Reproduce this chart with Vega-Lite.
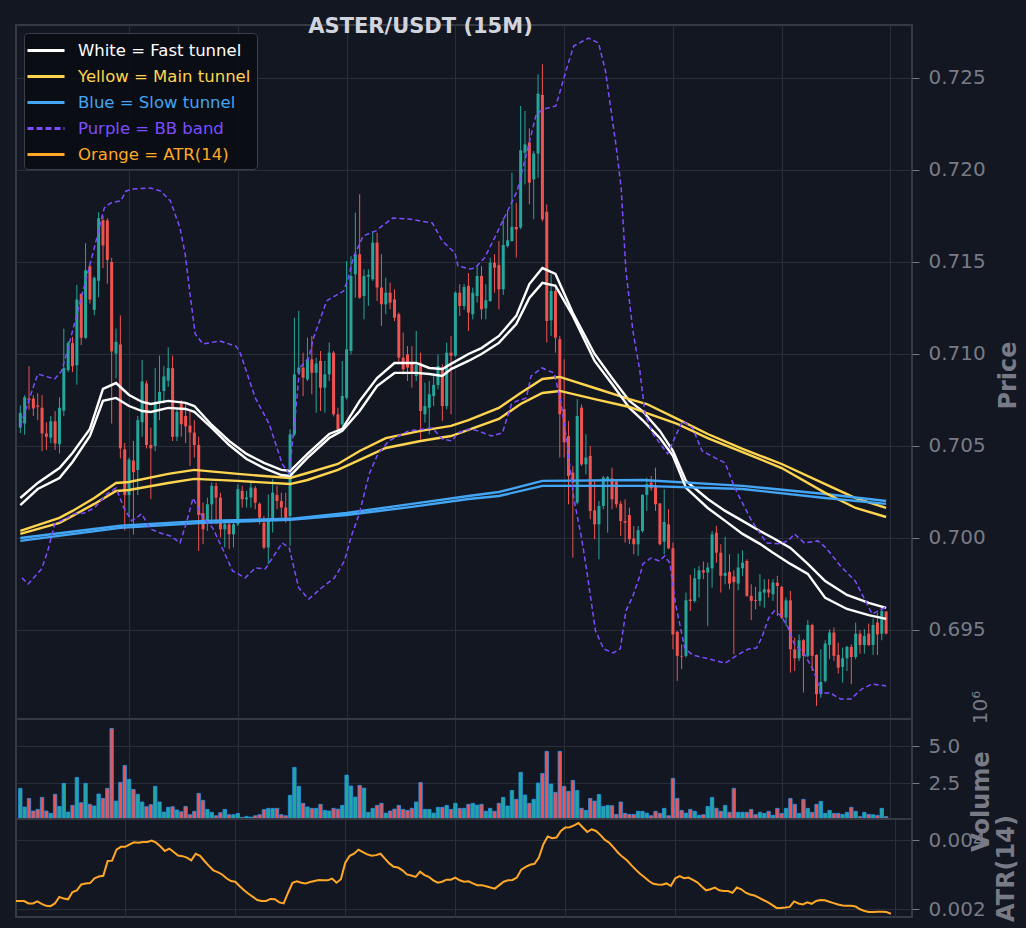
{
"$schema": "https://vega.github.io/schema/vega-lite/v6.json",
"background": "#131722",
"padding": {"left": 15, "top": 14, "right": 5, "bottom": 5},
"bounds": "flush",
"datasets": {
"candles": [
{"i":0,"o":0.70600,"h":0.70720,"l":0.70570,"c":0.70680,"v":2160000,"a":0.00224},
{"i":1,"o":0.70622,"h":0.70776,"l":0.70561,"c":0.70765,"v":900000,"a":0.00224},
{"i":2,"o":0.70758,"h":0.70934,"l":0.70697,"c":0.70749,"v":1480000,"a":0.00224},
{"i":3,"o":0.70758,"h":0.70776,"l":0.70663,"c":0.70704,"v":630000,"a":0.00217},
{"i":4,"o":0.70720,"h":0.70787,"l":0.70640,"c":0.70713,"v":740000,"a":0.00217},
{"i":5,"o":0.70708,"h":0.70776,"l":0.70471,"c":0.70568,"v":1550000,"a":0.00223},
{"i":6,"o":0.70568,"h":0.70629,"l":0.70478,"c":0.70550,"v":630000,"a":0.00216},
{"i":7,"o":0.70545,"h":0.70663,"l":0.70516,"c":0.70634,"v":470000,"a":0.00210},
{"i":8,"o":0.70634,"h":0.70690,"l":0.70478,"c":0.70514,"v":1760000,"a":0.00209},
{"i":9,"o":0.70509,"h":0.70765,"l":0.70459,"c":0.70708,"v":940000,"a":0.00217},
{"i":10,"o":0.70692,"h":0.71138,"l":0.70663,"c":0.70923,"v":2500000,"a":0.00236},
{"i":11,"o":0.70912,"h":0.71070,"l":0.70901,"c":0.71059,"v":560000,"a":0.00231},
{"i":12,"o":0.71059,"h":0.71093,"l":0.70901,"c":0.70934,"v":1010000,"a":0.00229},
{"i":13,"o":0.70939,"h":0.71376,"l":0.70833,"c":0.71296,"v":2900000,"a":0.00250},
{"i":14,"o":0.71326,"h":0.71330,"l":0.71048,"c":0.71088,"v":1190000,"a":0.00255},
{"i":15,"o":0.71088,"h":0.71602,"l":0.71081,"c":0.71455,"v":2500000,"a":0.00272},
{"i":16,"o":0.71477,"h":0.71482,"l":0.71274,"c":0.71296,"v":1080000,"a":0.00275},
{"i":17,"o":0.71240,"h":0.71421,"l":0.71210,"c":0.71414,"v":970000,"a":0.00276},
{"i":18,"o":0.71398,"h":0.71771,"l":0.71308,"c":0.71738,"v":1780000,"a":0.00290},
{"i":19,"o":0.71727,"h":0.71750,"l":0.71466,"c":0.71590,"v":1480000,"a":0.00295},
{"i":20,"o":0.71726,"h":0.71738,"l":0.71382,"c":0.71511,"v":2160000,"a":0.00297},
{"i":21,"o":0.71500,"h":0.71523,"l":0.70622,"c":0.71014,"v":6210000,"a":0.00340},
{"i":22,"o":0.71002,"h":0.71138,"l":0.70867,"c":0.71066,"v":1300000,"a":0.00341},
{"i":23,"o":0.71052,"h":0.71210,"l":0.70432,"c":0.70487,"v":2570000,"a":0.00373},
{"i":24,"o":0.70482,"h":0.70516,"l":0.70041,"c":0.70233,"v":3710000,"a":0.00381},
{"i":25,"o":0.70233,"h":0.70437,"l":0.70120,"c":0.70426,"v":2770000,"a":0.00381},
{"i":26,"o":0.70421,"h":0.70527,"l":0.70018,"c":0.70358,"v":2090000,"a":0.00388},
{"i":27,"o":0.70369,"h":0.70663,"l":0.70233,"c":0.70640,"v":1760000,"a":0.00394},
{"i":28,"o":0.70629,"h":0.70968,"l":0.70550,"c":0.70851,"v":1240000,"a":0.00393},
{"i":29,"o":0.70840,"h":0.70855,"l":0.70487,"c":0.70505,"v":920000,"a":0.00395},
{"i":30,"o":0.70505,"h":0.70600,"l":0.70211,"c":0.70487,"v":1060000,"a":0.00395},
{"i":31,"o":0.70500,"h":0.70923,"l":0.70471,"c":0.70740,"v":2300000,"a":0.00399},
{"i":32,"o":0.70735,"h":0.70991,"l":0.70640,"c":0.70794,"v":1240000,"a":0.00393},
{"i":33,"o":0.70799,"h":0.70934,"l":0.70731,"c":0.70878,"v":560000,"a":0.00382},
{"i":34,"o":0.70855,"h":0.71036,"l":0.70821,"c":0.70923,"v":880000,"a":0.00369},
{"i":35,"o":0.70923,"h":0.70991,"l":0.70527,"c":0.70550,"v":920000,"a":0.00376},
{"i":36,"o":0.70550,"h":0.70700,"l":0.70527,"c":0.70686,"v":700000,"a":0.00366},
{"i":37,"o":0.70731,"h":0.70749,"l":0.70550,"c":0.70618,"v":580000,"a":0.00356},
{"i":38,"o":0.70663,"h":0.70731,"l":0.70516,"c":0.70607,"v":940000,"a":0.00354},
{"i":39,"o":0.70611,"h":0.70686,"l":0.70392,"c":0.70573,"v":380000,"a":0.00350},
{"i":40,"o":0.70573,"h":0.70640,"l":0.70437,"c":0.70505,"v":610000,"a":0.00342},
{"i":41,"o":0.70505,"h":0.70550,"l":0.69929,"c":0.70125,"v":1820000,"a":0.00361},
{"i":42,"o":0.70134,"h":0.70192,"l":0.69966,"c":0.70047,"v":1350000,"a":0.00355},
{"i":43,"o":0.70092,"h":0.70219,"l":0.70038,"c":0.70183,"v":740000,"a":0.00340},
{"i":44,"o":0.70183,"h":0.70301,"l":0.70074,"c":0.70283,"v":540000,"a":0.00326},
{"i":45,"o":0.70283,"h":0.70301,"l":0.70074,"c":0.70219,"v":310000,"a":0.00313},
{"i":46,"o":0.70219,"h":0.70246,"l":0.70002,"c":0.70047,"v":520000,"a":0.00308},
{"i":47,"o":0.70047,"h":0.70101,"l":0.69948,"c":0.70074,"v":740000,"a":0.00301},
{"i":48,"o":0.70074,"h":0.70101,"l":0.69939,"c":0.70020,"v":380000,"a":0.00290},
{"i":49,"o":0.70020,"h":0.70101,"l":0.69948,"c":0.70074,"v":380000,"a":0.00282},
{"i":50,"o":0.70074,"h":0.70292,"l":0.70065,"c":0.70265,"v":470000,"a":0.00280},
{"i":51,"o":0.70256,"h":0.70283,"l":0.70165,"c":0.70210,"v":200000,"a":0.00267},
{"i":52,"o":0.70210,"h":0.70256,"l":0.70165,"c":0.70220,"v":270000,"a":0.00255},
{"i":53,"o":0.70220,"h":0.70310,"l":0.70165,"c":0.70274,"v":220000,"a":0.00245},
{"i":54,"o":0.70270,"h":0.70283,"l":0.70156,"c":0.70192,"v":310000,"a":0.00236},
{"i":55,"o":0.70186,"h":0.70192,"l":0.70074,"c":0.70110,"v":380000,"a":0.00227},
{"i":56,"o":0.70083,"h":0.70120,"l":0.69939,"c":0.69948,"v":720000,"a":0.00224},
{"i":57,"o":0.69948,"h":0.70237,"l":0.69857,"c":0.70101,"v":810000,"a":0.00224},
{"i":58,"o":0.70101,"h":0.70319,"l":0.70029,"c":0.70246,"v":810000,"a":0.00230},
{"i":59,"o":0.70234,"h":0.70283,"l":0.70156,"c":0.70201,"v":810000,"a":0.00229},
{"i":60,"o":0.70201,"h":0.70246,"l":0.70110,"c":0.70165,"v":380000,"a":0.00220},
{"i":61,"o":0.70165,"h":0.70246,"l":0.70083,"c":0.70110,"v":310000,"a":0.00217},
{"i":62,"o":0.70119,"h":0.70590,"l":0.69957,"c":0.70563,"v":1690000,"a":0.00248},
{"i":63,"o":0.70563,"h":0.71197,"l":0.70554,"c":0.70889,"v":3580000,"a":0.00277},
{"i":64,"o":0.70898,"h":0.71234,"l":0.70889,"c":0.70926,"v":2300000,"a":0.00281},
{"i":65,"o":0.70926,"h":0.71007,"l":0.70771,"c":0.70871,"v":1150000,"a":0.00277},
{"i":66,"o":0.70862,"h":0.71089,"l":0.70853,"c":0.70971,"v":900000,"a":0.00275},
{"i":67,"o":0.70971,"h":0.71098,"l":0.70781,"c":0.70898,"v":810000,"a":0.00279},
{"i":68,"o":0.70898,"h":0.70980,"l":0.70681,"c":0.70948,"v":810000,"a":0.00282},
{"i":69,"o":0.70962,"h":0.71016,"l":0.70690,"c":0.70817,"v":1080000,"a":0.00285},
{"i":70,"o":0.70817,"h":0.70962,"l":0.70681,"c":0.70889,"v":670000,"a":0.00284},
{"i":71,"o":0.70889,"h":0.71062,"l":0.70853,"c":0.71007,"v":630000,"a":0.00284},
{"i":72,"o":0.71007,"h":0.71016,"l":0.70660,"c":0.70672,"v":810000,"a":0.00289},
{"i":73,"o":0.70672,"h":0.70708,"l":0.70582,"c":0.70591,"v":760000,"a":0.00277},
{"i":74,"o":0.70618,"h":0.70962,"l":0.70609,"c":0.70772,"v":1010000,"a":0.00287},
{"i":75,"o":0.70762,"h":0.71505,"l":0.70753,"c":0.71025,"v":3060000,"a":0.00335},
{"i":76,"o":0.71016,"h":0.71533,"l":0.70998,"c":0.71424,"v":2320000,"a":0.00355},
{"i":77,"o":0.71433,"h":0.71768,"l":0.71306,"c":0.71542,"v":1570000,"a":0.00361},
{"i":78,"o":0.71542,"h":0.71868,"l":0.71300,"c":0.71306,"v":2360000,"a":0.00373},
{"i":79,"o":0.71315,"h":0.71460,"l":0.71188,"c":0.71424,"v":2180000,"a":0.00366},
{"i":80,"o":0.71420,"h":0.71460,"l":0.71261,"c":0.71430,"v":540000,"a":0.00359},
{"i":81,"o":0.71406,"h":0.71668,"l":0.71397,"c":0.71605,"v":810000,"a":0.00355},
{"i":82,"o":0.71605,"h":0.71659,"l":0.71288,"c":0.71361,"v":1010000,"a":0.00357},
{"i":83,"o":0.71361,"h":0.71542,"l":0.71152,"c":0.71270,"v":1150000,"a":0.00361},
{"i":84,"o":0.71270,"h":0.71415,"l":0.71216,"c":0.71333,"v":490000,"a":0.00347},
{"i":85,"o":0.71333,"h":0.71388,"l":0.71243,"c":0.71279,"v":630000,"a":0.00333},
{"i":86,"o":0.71297,"h":0.71351,"l":0.71179,"c":0.71197,"v":760000,"a":0.00323},
{"i":87,"o":0.71216,"h":0.71225,"l":0.70953,"c":0.70980,"v":1010000,"a":0.00321},
{"i":88,"o":0.70980,"h":0.71116,"l":0.70889,"c":0.70917,"v":740000,"a":0.00313},
{"i":89,"o":0.70998,"h":0.71043,"l":0.70853,"c":0.70926,"v":670000,"a":0.00301},
{"i":90,"o":0.70953,"h":0.71043,"l":0.70817,"c":0.70898,"v":810000,"a":0.00298},
{"i":91,"o":0.70880,"h":0.71125,"l":0.70853,"c":0.70940,"v":1240000,"a":0.00294},
{"i":92,"o":0.70953,"h":0.71007,"l":0.70536,"c":0.70690,"v":2560000,"a":0.00309},
{"i":93,"o":0.70672,"h":0.70844,"l":0.70627,"c":0.70717,"v":740000,"a":0.00299},
{"i":94,"o":0.70708,"h":0.70853,"l":0.70563,"c":0.70781,"v":740000,"a":0.00294},
{"i":95,"o":0.70772,"h":0.70889,"l":0.70717,"c":0.70832,"v":490000,"a":0.00284},
{"i":96,"o":0.70832,"h":0.70998,"l":0.70808,"c":0.70935,"v":880000,"a":0.00277},
{"i":97,"o":0.70926,"h":0.70944,"l":0.70636,"c":0.70717,"v":880000,"a":0.00280},
{"i":98,"o":0.70717,"h":0.71062,"l":0.70699,"c":0.71007,"v":1010000,"a":0.00286},
{"i":99,"o":0.71007,"h":0.71098,"l":0.70672,"c":0.70990,"v":740000,"a":0.00286},
{"i":100,"o":0.70990,"h":0.71340,"l":0.70985,"c":0.71333,"v":1150000,"a":0.00292},
{"i":101,"o":0.71333,"h":0.71379,"l":0.71207,"c":0.71261,"v":810000,"a":0.00284},
{"i":102,"o":0.71261,"h":0.71380,"l":0.71240,"c":0.71364,"v":810000,"a":0.00280},
{"i":103,"o":0.71370,"h":0.71440,"l":0.71125,"c":0.71225,"v":1080000,"a":0.00281},
{"i":104,"o":0.71216,"h":0.71361,"l":0.71188,"c":0.71333,"v":1150000,"a":0.00275},
{"i":105,"o":0.71315,"h":0.71478,"l":0.71279,"c":0.71424,"v":1030000,"a":0.00270},
{"i":106,"o":0.71424,"h":0.71478,"l":0.71188,"c":0.71243,"v":1080000,"a":0.00270},
{"i":107,"o":0.71248,"h":0.71379,"l":0.71188,"c":0.71292,"v":610000,"a":0.00267},
{"i":108,"o":0.71288,"h":0.71523,"l":0.71283,"c":0.71496,"v":810000,"a":0.00263},
{"i":109,"o":0.71496,"h":0.71542,"l":0.71333,"c":0.71469,"v":610000,"a":0.00260},
{"i":110,"o":0.71483,"h":0.71614,"l":0.71243,"c":0.71351,"v":1150000,"a":0.00270},
{"i":111,"o":0.71351,"h":0.71741,"l":0.71321,"c":0.71592,"v":1550000,"a":0.00280},
{"i":112,"o":0.71587,"h":0.71777,"l":0.71578,"c":0.71618,"v":970000,"a":0.00284},
{"i":113,"o":0.71614,"h":0.71985,"l":0.71610,"c":0.71690,"v":2020000,"a":0.00285},
{"i":114,"o":0.71690,"h":0.71822,"l":0.71524,"c":0.71677,"v":1420000,"a":0.00292},
{"i":115,"o":0.71687,"h":0.72348,"l":0.71678,"c":0.72107,"v":3240000,"a":0.00315},
{"i":116,"o":0.72094,"h":0.72321,"l":0.71922,"c":0.72139,"v":1710000,"a":0.00323},
{"i":117,"o":0.72149,"h":0.72226,"l":0.71813,"c":0.71931,"v":1150000,"a":0.00329},
{"i":118,"o":0.71949,"h":0.72103,"l":0.71732,"c":0.72089,"v":1420000,"a":0.00332},
{"i":119,"o":0.72089,"h":0.72520,"l":0.71958,"c":0.72415,"v":2520000,"a":0.00350},
{"i":120,"o":0.72408,"h":0.72575,"l":0.71720,"c":0.71732,"v":3170000,"a":0.00388},
{"i":121,"o":0.71773,"h":0.71813,"l":0.71062,"c":0.71179,"v":4660000,"a":0.00411},
{"i":122,"o":0.71183,"h":0.71433,"l":0.71098,"c":0.71342,"v":2450000,"a":0.00406},
{"i":123,"o":0.71342,"h":0.71379,"l":0.71007,"c":0.71089,"v":1890000,"a":0.00408},
{"i":124,"o":0.71080,"h":0.71098,"l":0.70437,"c":0.70672,"v":4660000,"a":0.00427},
{"i":125,"o":0.70700,"h":0.70971,"l":0.70437,"c":0.70520,"v":2290000,"a":0.00437},
{"i":126,"o":0.70554,"h":0.70636,"l":0.70183,"c":0.70337,"v":1960000,"a":0.00438},
{"i":127,"o":0.70355,"h":0.70391,"l":0.69893,"c":0.70301,"v":2700000,"a":0.00443},
{"i":128,"o":0.70192,"h":0.70754,"l":0.70183,"c":0.70663,"v":2020000,"a":0.00450},
{"i":129,"o":0.70708,"h":0.70726,"l":0.70391,"c":0.70400,"v":810000,"a":0.00437},
{"i":130,"o":0.70400,"h":0.70563,"l":0.70346,"c":0.70437,"v":670000,"a":0.00424},
{"i":131,"o":0.70446,"h":0.70500,"l":0.70102,"c":0.70147,"v":1480000,"a":0.00432},
{"i":132,"o":0.70150,"h":0.70310,"l":0.69993,"c":0.70074,"v":1300000,"a":0.00427},
{"i":133,"o":0.70074,"h":0.70201,"l":0.69884,"c":0.70174,"v":1750000,"a":0.00415},
{"i":134,"o":0.70174,"h":0.70337,"l":0.70156,"c":0.70328,"v":940000,"a":0.00401},
{"i":135,"o":0.70310,"h":0.70337,"l":0.70029,"c":0.70330,"v":1010000,"a":0.00393},
{"i":136,"o":0.70324,"h":0.70382,"l":0.70156,"c":0.70210,"v":990000,"a":0.00379},
{"i":137,"o":0.70306,"h":0.70310,"l":0.70165,"c":0.70183,"v":400000,"a":0.00364},
{"i":138,"o":0.70186,"h":0.70201,"l":0.70011,"c":0.70092,"v":1240000,"a":0.00352},
{"i":139,"o":0.70092,"h":0.70210,"l":0.69975,"c":0.70083,"v":470000,"a":0.00342},
{"i":140,"o":0.70125,"h":0.70165,"l":0.69966,"c":0.69993,"v":400000,"a":0.00328},
{"i":141,"o":0.69997,"h":0.70065,"l":0.69911,"c":0.69966,"v":400000,"a":0.00315},
{"i":142,"o":0.69966,"h":0.70065,"l":0.69902,"c":0.70042,"v":610000,"a":0.00303},
{"i":143,"o":0.70038,"h":0.70237,"l":0.70029,"c":0.70234,"v":610000,"a":0.00293},
{"i":144,"o":0.70234,"h":0.70328,"l":0.70147,"c":0.70292,"v":490000,"a":0.00282},
{"i":145,"o":0.70301,"h":0.70337,"l":0.70256,"c":0.70270,"v":310000,"a":0.00274},
{"i":146,"o":0.70283,"h":0.70382,"l":0.70147,"c":0.70183,"v":610000,"a":0.00272},
{"i":147,"o":0.70187,"h":0.70190,"l":0.69960,"c":0.69966,"v":470000,"a":0.00271},
{"i":148,"o":0.69980,"h":0.70265,"l":0.69911,"c":0.70087,"v":810000,"a":0.00275},
{"i":149,"o":0.70074,"h":0.70156,"l":0.69939,"c":0.69944,"v":310000,"a":0.00268},
{"i":150,"o":0.69944,"h":0.69975,"l":0.69395,"c":0.69476,"v":2840000,"a":0.00290},
{"i":151,"o":0.69490,"h":0.69495,"l":0.69223,"c":0.69359,"v":1480000,"a":0.00296},
{"i":152,"o":0.69359,"h":0.69422,"l":0.69287,"c":0.69355,"v":670000,"a":0.00290},
{"i":153,"o":0.69359,"h":0.69703,"l":0.69350,"c":0.69661,"v":490000,"a":0.00292},
{"i":154,"o":0.69665,"h":0.69799,"l":0.69603,"c":0.69657,"v":740000,"a":0.00285},
{"i":155,"o":0.69657,"h":0.69835,"l":0.69648,"c":0.69781,"v":610000,"a":0.00278},
{"i":156,"o":0.69776,"h":0.69848,"l":0.69676,"c":0.69824,"v":340000,"a":0.00266},
{"i":157,"o":0.69824,"h":0.69872,"l":0.69776,"c":0.69812,"v":380000,"a":0.00255},
{"i":158,"o":0.69812,"h":0.69866,"l":0.69522,"c":0.69839,"v":940000,"a":0.00258},
{"i":159,"o":0.69835,"h":0.70038,"l":0.69730,"c":0.70020,"v":1550000,"a":0.00263},
{"i":160,"o":0.70029,"h":0.70065,"l":0.69866,"c":0.69920,"v":810000,"a":0.00255},
{"i":161,"o":0.69920,"h":0.69966,"l":0.69703,"c":0.69794,"v":610000,"a":0.00253},
{"i":162,"o":0.69794,"h":0.70006,"l":0.69748,"c":0.69810,"v":1010000,"a":0.00253},
{"i":163,"o":0.69816,"h":0.69911,"l":0.69721,"c":0.69752,"v":540000,"a":0.00248},
{"i":164,"o":0.69790,"h":0.69824,"l":0.69368,"c":0.69760,"v":2160000,"a":0.00263},
{"i":165,"o":0.69752,"h":0.69915,"l":0.69716,"c":0.69839,"v":540000,"a":0.00258},
{"i":166,"o":0.69835,"h":0.69933,"l":0.69794,"c":0.69866,"v":540000,"a":0.00248},
{"i":167,"o":0.69875,"h":0.69884,"l":0.69680,"c":0.69685,"v":540000,"a":0.00243},
{"i":168,"o":0.69685,"h":0.69748,"l":0.69553,"c":0.69658,"v":740000,"a":0.00240},
{"i":169,"o":0.69663,"h":0.69734,"l":0.69612,"c":0.69658,"v":380000,"a":0.00234},
{"i":170,"o":0.69658,"h":0.69803,"l":0.69630,"c":0.69708,"v":540000,"a":0.00227},
{"i":171,"o":0.69703,"h":0.69776,"l":0.69621,"c":0.69721,"v":470000,"a":0.00221},
{"i":172,"o":0.69721,"h":0.69776,"l":0.69676,"c":0.69703,"v":610000,"a":0.00213},
{"i":173,"o":0.69694,"h":0.69776,"l":0.69658,"c":0.69757,"v":340000,"a":0.00204},
{"i":174,"o":0.69757,"h":0.69794,"l":0.69576,"c":0.69739,"v":810000,"a":0.00204},
{"i":175,"o":0.69734,"h":0.69739,"l":0.69560,"c":0.69567,"v":470000,"a":0.00205},
{"i":176,"o":0.69567,"h":0.69676,"l":0.69522,"c":0.69661,"v":810000,"a":0.00207},
{"i":177,"o":0.69661,"h":0.69712,"l":0.69268,"c":0.69395,"v":1480000,"a":0.00223},
{"i":178,"o":0.69395,"h":0.69458,"l":0.69277,"c":0.69346,"v":1080000,"a":0.00217},
{"i":179,"o":0.69346,"h":0.69476,"l":0.69331,"c":0.69444,"v":470000,"a":0.00214},
{"i":180,"o":0.69444,"h":0.69450,"l":0.69160,"c":0.69359,"v":1420000,"a":0.00220},
{"i":181,"o":0.69359,"h":0.69553,"l":0.69350,"c":0.69527,"v":810000,"a":0.00216},
{"i":182,"o":0.69527,"h":0.69534,"l":0.69277,"c":0.69359,"v":540000,"a":0.00224},
{"i":183,"o":0.69364,"h":0.69368,"l":0.69087,"c":0.69151,"v":1080000,"a":0.00227},
{"i":184,"o":0.69151,"h":0.69395,"l":0.69132,"c":0.69217,"v":1280000,"a":0.00226},
{"i":185,"o":0.69223,"h":0.69444,"l":0.69214,"c":0.69426,"v":470000,"a":0.00222},
{"i":186,"o":0.69418,"h":0.69504,"l":0.69341,"c":0.69486,"v":670000,"a":0.00218},
{"i":187,"o":0.69486,"h":0.69513,"l":0.69332,"c":0.69359,"v":470000,"a":0.00214},
{"i":188,"o":0.69364,"h":0.69431,"l":0.69263,"c":0.69295,"v":470000,"a":0.00211},
{"i":189,"o":0.69299,"h":0.69404,"l":0.69214,"c":0.69346,"v":400000,"a":0.00210},
{"i":190,"o":0.69346,"h":0.69413,"l":0.69277,"c":0.69408,"v":540000,"a":0.00210},
{"i":191,"o":0.69408,"h":0.69422,"l":0.69205,"c":0.69353,"v":880000,"a":0.00208},
{"i":192,"o":0.69353,"h":0.69540,"l":0.69341,"c":0.69480,"v":610000,"a":0.00200},
{"i":193,"o":0.69480,"h":0.69498,"l":0.69371,"c":0.69418,"v":250000,"a":0.00195},
{"i":194,"o":0.69418,"h":0.69504,"l":0.69371,"c":0.69467,"v":540000,"a":0.00192},
{"i":195,"o":0.69480,"h":0.69534,"l":0.69413,"c":0.69418,"v":400000,"a":0.00192},
{"i":196,"o":0.69418,"h":0.69563,"l":0.69364,"c":0.69527,"v":380000,"a":0.00193},
{"i":197,"o":0.69540,"h":0.69594,"l":0.69364,"c":0.69476,"v":340000,"a":0.00193},
{"i":198,"o":0.69480,"h":0.69625,"l":0.69444,"c":0.69603,"v":810000,"a":0.00192},
{"i":199,"o":0.69600,"h":0.69603,"l":0.69476,"c":0.69480,"v":250000,"a":0.00187}
],
"tunnels": [
{"k":"a","i":0,"p1":0.70217,"p2":0.70179},{"k":"a","i":4,"p1":0.70299,"p2":0.70266},{"k":"a","i":9,"p1":0.70380,"p2":0.70326},{"k":"a","i":12,"p1":0.70462,"p2":0.70413},{"k":"a","i":16,"p1":0.70593,"p2":0.70554},{"k":"a","i":19,"p1":0.70810,"p2":0.70745},{"k":"a","i":22,"p1":0.70842,"p2":0.70761},{"k":"a","i":25,"p1":0.70777,"p2":0.70717},{"k":"a","i":28,"p1":0.70739,"p2":0.70690},{"k":"a","i":30,"p1":0.70728,"p2":0.70685},{"k":"a","i":34,"p1":0.70745,"p2":0.70707},{"k":"a","i":38,"p1":0.70734,"p2":0.70701},{"k":"a","i":40,"p1":0.70717,"p2":0.70685},{"k":"a","i":44,"p1":0.70614,"p2":0.70598},{"k":"a","i":48,"p1":0.70527,"p2":0.70505},{"k":"a","i":52,"p1":0.70457,"p2":0.70429},{"k":"a","i":56,"p1":0.70408,"p2":0.70380},{"k":"a","i":60,"p1":0.70370,"p2":0.70342},{"k":"a","i":62,"p1":0.70364,"p2":0.70337},{"k":"a","i":66,"p1":0.70457,"p2":0.70435},{"k":"a","i":71,"p1":0.70565,"p2":0.70543},{"k":"a","i":74,"p1":0.70593,"p2":0.70582},{"k":"a","i":78,"p1":0.70745,"p2":0.70690},{"k":"a","i":82,"p1":0.70869,"p2":0.70826},{"k":"a","i":86,"p1":0.70951,"p2":0.70897},{"k":"a","i":91,"p1":0.70951,"p2":0.70897},{"k":"a","i":94,"p1":0.70924,"p2":0.70891},{"k":"a","i":97,"p1":0.70918,"p2":0.70880},{"k":"a","i":99,"p1":0.70946,"p2":0.70918},{"k":"a","i":103,"p1":0.71000,"p2":0.70962},{"k":"a","i":106,"p1":0.71032,"p2":0.71000},{"k":"a","i":110,"p1":0.71098,"p2":0.71060},{"k":"a","i":114,"p1":0.71207,"p2":0.71163},{"k":"a","i":117,"p1":0.71380,"p2":0.71304},{"k":"a","i":120,"p1":0.71467,"p2":0.71386},{"k":"a","i":123,"p1":0.71435,"p2":0.71370},{"k":"a","i":127,"p1":0.71223,"p2":0.71207},{"k":"a","i":132,"p1":0.71000,"p2":0.70962},{"k":"a","i":136,"p1":0.70869,"p2":0.70837},{"k":"a","i":140,"p1":0.70745,"p2":0.70707},{"k":"a","i":143,"p1":0.70690,"p2":0.70641},{"k":"a","i":147,"p1":0.70582,"p2":0.70543},{"k":"a","i":150,"p1":0.70473,"p2":0.70446},{"k":"a","i":153,"p1":0.70310,"p2":0.70272},{"k":"a","i":158,"p1":0.70212,"p2":0.70163},{"k":"a","i":162,"p1":0.70147,"p2":0.70093},{"k":"a","i":166,"p1":0.70093,"p2":0.70022},{"k":"a","i":170,"p1":0.70038,"p2":0.69968},{"k":"a","i":173,"p1":0.70000,"p2":0.69919},{"k":"a","i":177,"p1":0.69946,"p2":0.69859},{"k":"a","i":181,"p1":0.69859,"p2":0.69805},{"k":"a","i":185,"p1":0.69766,"p2":0.69674},{"k":"a","i":190,"p1":0.69690,"p2":0.69614},{"k":"a","i":195,"p1":0.69647,"p2":0.69581},{"k":"a","i":199,"p1":0.69620,"p2":0.69560},
{"k":"b","i":0,"p1":0.70038,"p2":0.70022},{"k":"b","i":9,"p1":0.70109,"p2":0.70082},{"k":"b","i":12,"p1":0.70147,"p2":0.70120},{"k":"b","i":17,"p1":0.70217,"p2":0.70185},{"k":"b","i":22,"p1":0.70299,"p2":0.70255},{"k":"b","i":25,"p1":0.70304,"p2":0.70261},{"k":"b","i":34,"p1":0.70348,"p2":0.70299},{"k":"b","i":40,"p1":0.70370,"p2":0.70321},{"k":"b","i":50,"p1":0.70348,"p2":0.70310},{"k":"b","i":62,"p1":0.70326,"p2":0.70293},{"k":"b","i":66,"p1":0.70353,"p2":0.70315},{"k":"b","i":73,"p1":0.70402,"p2":0.70370},{"k":"b","i":78,"p1":0.70473,"p2":0.70424},{"k":"b","i":84,"p1":0.70543,"p2":0.70489},{"k":"b","i":92,"p1":0.70582,"p2":0.70527},{"k":"b","i":99,"p1":0.70609,"p2":0.70554},{"k":"b","i":103,"p1":0.70641,"p2":0.70587},{"k":"b","i":110,"p1":0.70707,"p2":0.70647},{"k":"b","i":115,"p1":0.70788,"p2":0.70728},{"k":"b","i":120,"p1":0.70864,"p2":0.70788},{"k":"b","i":124,"p1":0.70875,"p2":0.70799},{"k":"b","i":132,"p1":0.70815,"p2":0.70755},{"k":"b","i":140,"p1":0.70755,"p2":0.70712},{"k":"b","i":144,"p1":0.70728,"p2":0.70679},{"k":"b","i":151,"p1":0.70647,"p2":0.70620},{"k":"b","i":158,"p1":0.70565,"p2":0.70543},{"k":"b","i":166,"p1":0.70484,"p2":0.70467},{"k":"b","i":175,"p1":0.70402,"p2":0.70380},{"k":"b","i":185,"p1":0.70293,"p2":0.70245},{"k":"b","i":192,"p1":0.70217,"p2":0.70163},{"k":"b","i":199,"p1":0.70163,"p2":0.70114},
{"k":"c","i":0,"p1":0.70000,"p2":0.69984},{"k":"c","i":23,"p1":0.70066,"p2":0.70055},{"k":"c","i":42,"p1":0.70093,"p2":0.70082},{"k":"c","i":62,"p1":0.70104,"p2":0.70098},{"k":"c","i":75,"p1":0.70136,"p2":0.70125},{"k":"c","i":90,"p1":0.70185,"p2":0.70169},{"k":"c","i":103,"p1":0.70228,"p2":0.70212},{"k":"c","i":110,"p1":0.70250,"p2":0.70228},{"k":"c","i":120,"p1":0.70310,"p2":0.70283},{"k":"c","i":143,"p1":0.70315,"p2":0.70283},{"k":"c","i":166,"p1":0.70283,"p2":0.70266},{"k":"c","i":185,"p1":0.70239,"p2":0.70217},{"k":"c","i":199,"p1":0.70201,"p2":0.70185}
],
"bb": [
{"n":"u","i":0,"p":0.70609},{"n":"u","i":4,"p":0.70891},{"n":"u","i":7.9,"p":0.70864},{"n":"u","i":9.5,"p":0.70908},{"n":"u","i":10.8,"p":0.71016},{"n":"u","i":17,"p":0.71576},{"n":"u","i":19.3,"p":0.71794},{"n":"u","i":20.8,"p":0.71821},{"n":"u","i":23.1,"p":0.71832},{"n":"u","i":24.3,"p":0.71886},{"n":"u","i":26,"p":0.71897},{"n":"u","i":29.9,"p":0.71902},{"n":"u","i":32.2,"p":0.71886},{"n":"u","i":34.5,"p":0.71832},{"n":"u","i":36.7,"p":0.71685},{"n":"u","i":37.9,"p":0.71543},{"n":"u","i":39,"p":0.71326},{"n":"u","i":40.2,"p":0.71109},{"n":"u","i":42,"p":0.71054},{"n":"u","i":45.8,"p":0.71071},{"n":"u","i":49.5,"p":0.71043},{"n":"u","i":50.4,"p":0.71016},{"n":"u","i":54,"p":0.70761},{"n":"u","i":57.2,"p":0.70620},{"n":"u","i":60.2,"p":0.70402},{"n":"u","i":61.8,"p":0.70348},{"n":"u","i":63.3,"p":0.70690},{"n":"u","i":64.2,"p":0.70924},{"n":"u","i":66.3,"p":0.70978},{"n":"u","i":67.4,"p":0.71087},{"n":"u","i":70.4,"p":0.71288},{"n":"u","i":71.5,"p":0.71304},{"n":"u","i":74.3,"p":0.71342},{"n":"u","i":75.4,"p":0.71413},{"n":"u","i":76.5,"p":0.71522},{"n":"u","i":78.8,"p":0.71641},{"n":"u","i":81.7,"p":0.71669},{"n":"u","i":85.6,"p":0.71739},{"n":"u","i":89.2,"p":0.71734},{"n":"u","i":94.7,"p":0.71712},{"n":"u","i":97,"p":0.71614},{"n":"u","i":99.9,"p":0.71549},{"n":"u","i":100.6,"p":0.71478},{"n":"u","i":103.3,"p":0.71462},{"n":"u","i":104.5,"p":0.71467},{"n":"u","i":106.7,"p":0.71522},{"n":"u","i":109,"p":0.71631},{"n":"u","i":112,"p":0.71777},{"n":"u","i":114.2,"p":0.71886},{"n":"u","i":116.5,"p":0.72103},{"n":"u","i":118.6,"p":0.72304},{"n":"u","i":120.4,"p":0.72332},{"n":"u","i":123.1,"p":0.72348},{"n":"u","i":125.4,"p":0.72538},{"n":"u","i":127.2,"p":0.72674},{"n":"u","i":130.6,"p":0.72717},{"n":"u","i":132.9,"p":0.72690},{"n":"u","i":134.5,"p":0.72538},{"n":"u","i":137,"p":0.72120},{"n":"u","i":138.1,"p":0.71902},{"n":"u","i":139.2,"p":0.71451},{"n":"u","i":140.8,"p":0.71125},{"n":"u","i":142.4,"p":0.70908},{"n":"u","i":143.6,"p":0.70674},{"n":"u","i":145.4,"p":0.70565},{"n":"u","i":148.8,"p":0.70457},{"n":"u","i":150.4,"p":0.70543},{"n":"u","i":152.2,"p":0.70636},{"n":"u","i":154.5,"p":0.70598},{"n":"u","i":156.7,"p":0.70473},{"n":"u","i":159.7,"p":0.70435},{"n":"u","i":162,"p":0.70408},{"n":"u","i":164.2,"p":0.70272},{"n":"u","i":168.1,"p":0.70093},{"n":"u","i":171.5,"p":0.69973},{"n":"u","i":174.2,"p":0.69968},{"n":"u","i":176.5,"p":0.69984},{"n":"u","i":177.9,"p":0.70022},{"n":"u","i":180.2,"p":0.69973},{"n":"u","i":183.3,"p":0.69984},{"n":"u","i":185.2,"p":0.69946},{"n":"u","i":188.5,"p":0.69848},{"n":"u","i":191.9,"p":0.69766},{"n":"u","i":195.8,"p":0.69587},{"n":"u","i":199,"p":0.69625},
{"n":"l","i":0.4,"p":0.69783},{"n":"l","i":1.8,"p":0.69750},{"n":"l","i":4.9,"p":0.69832},{"n":"l","i":6.3,"p":0.69929},{"n":"l","i":7.9,"p":0.70076},{"n":"l","i":10.8,"p":0.70109},{"n":"l","i":12.4,"p":0.70131},{"n":"l","i":14.7,"p":0.70136},{"n":"l","i":17,"p":0.70163},{"n":"l","i":19.9,"p":0.70239},{"n":"l","i":22,"p":0.70272},{"n":"l","i":23.8,"p":0.70163},{"n":"l","i":25.6,"p":0.70093},{"n":"l","i":27.9,"p":0.70131},{"n":"l","i":29.9,"p":0.70049},{"n":"l","i":32.2,"p":0.70027},{"n":"l","i":34.5,"p":0.70011},{"n":"l","i":36.7,"p":0.69973},{"n":"l","i":38.1,"p":0.70076},{"n":"l","i":39.7,"p":0.70217},{"n":"l","i":42,"p":0.70109},{"n":"l","i":44.2,"p":0.70055},{"n":"l","i":46.5,"p":0.69940},{"n":"l","i":48.8,"p":0.69821},{"n":"l","i":51.7,"p":0.69783},{"n":"l","i":54,"p":0.69837},{"n":"l","i":56.3,"p":0.69832},{"n":"l","i":60.2,"p":0.69973},{"n":"l","i":61.8,"p":0.69946},{"n":"l","i":64,"p":0.69728},{"n":"l","i":66.3,"p":0.69668},{"n":"l","i":69.2,"p":0.69728},{"n":"l","i":72.2,"p":0.69783},{"n":"l","i":74.5,"p":0.69875},{"n":"l","i":76.1,"p":0.70011},{"n":"l","i":77.9,"p":0.70131},{"n":"l","i":80.2,"p":0.70348},{"n":"l","i":82.2,"p":0.70457},{"n":"l","i":84.7,"p":0.70527},{"n":"l","i":89.2,"p":0.70582},{"n":"l","i":93.1,"p":0.70593},{"n":"l","i":94.7,"p":0.70598},{"n":"l","i":97,"p":0.70538},{"n":"l","i":99.2,"p":0.70527},{"n":"l","i":100.6,"p":0.70571},{"n":"l","i":103.3,"p":0.70593},{"n":"l","i":105.2,"p":0.70582},{"n":"l","i":108.3,"p":0.70554},{"n":"l","i":110.8,"p":0.70571},{"n":"l","i":112.9,"p":0.70728},{"n":"l","i":114.2,"p":0.70745},{"n":"l","i":116.3,"p":0.70761},{"n":"l","i":117.4,"p":0.70880},{"n":"l","i":119.9,"p":0.70924},{"n":"l","i":122.7,"p":0.70897},{"n":"l","i":124.2,"p":0.70745},{"n":"l","i":125.6,"p":0.70527},{"n":"l","i":127.2,"p":0.70217},{"n":"l","i":129,"p":0.70000},{"n":"l","i":130.2,"p":0.69821},{"n":"l","i":132.2,"p":0.69495},{"n":"l","i":134.1,"p":0.69397},{"n":"l","i":136.3,"p":0.69375},{"n":"l","i":137.9,"p":0.69397},{"n":"l","i":139.2,"p":0.69603},{"n":"l","i":140.8,"p":0.69685},{"n":"l","i":142.4,"p":0.69794},{"n":"l","i":143.1,"p":0.69859},{"n":"l","i":144.9,"p":0.69891},{"n":"l","i":146.9,"p":0.69875},{"n":"l","i":148.1,"p":0.69902},{"n":"l","i":149.3,"p":0.69864},{"n":"l","i":150.6,"p":0.69641},{"n":"l","i":152.7,"p":0.69402},{"n":"l","i":154.5,"p":0.69364},{"n":"l","i":158.3,"p":0.69342},{"n":"l","i":162,"p":0.69320},{"n":"l","i":165.2,"p":0.69369},{"n":"l","i":167.4,"p":0.69397},{"n":"l","i":169.2,"p":0.69402},{"n":"l","i":170.4,"p":0.69457},{"n":"l","i":172,"p":0.69565},{"n":"l","i":173.3,"p":0.69603},{"n":"l","i":174.9,"p":0.69576},{"n":"l","i":176.5,"p":0.69511},{"n":"l","i":177.9,"p":0.69424},{"n":"l","i":180.2,"p":0.69369},{"n":"l","i":182.4,"p":0.69277},{"n":"l","i":184,"p":0.69157},{"n":"l","i":186.2,"p":0.69157},{"n":"l","i":188.5,"p":0.69125},{"n":"l","i":190.9,"p":0.69125},{"n":"l","i":193.4,"p":0.69179},{"n":"l","i":195.8,"p":0.69206},{"n":"l","i":199,"p":0.69196}
]
},
"spacing": 0,
"vconcat": [
{
"width": 896, "height": 694,
"encoding": {"x": {"field": "i", "type": "quantitative", "scale": {"domain": [0.16, 203.8], "nice": false, "zero": false}, "axis": {"orient": "top", "grid": true, "labels": false, "ticks": false, "domain": false, "values": [25,50,75,100,125,150,175,200], "title": "ASTER/USDT (15M)", "titleX": 404, "titleY": 7, "titleAngle": 0, "titleAlign": "center", "titleBaseline": "alphabetic", "titleFontSize": 21, "titleFontWeight": "bold", "titleColor": "#d1d4dc"}}},
"layer": [
{"data": {"name": "candles"}, "mark": {"type": "rule", "strokeWidth": 1, "clip": true},
 "encoding": {"y": {"field": "l", "type": "quantitative", "scale": {"domain": [0.69016, 0.72788], "nice": false, "zero": false},
   "axis": {"orient": "right", "values": [0.695,0.7,0.705,0.71,0.715,0.72,0.725], "format": ".3f", "title": "Price", "titleX": 96, "titleY": 350, "titleAngle": 270, "titleAlign": "center", "titleBaseline": "middle", "grid": true, "domain": false, "tickSize": 7, "labelPadding": 9}},
  "y2": {"field": "h"},
  "color": {"condition": {"test": "datum.c >= datum.o", "value": "#26a69a"}, "value": "#ef5350"}}},
{"data": {"name": "candles"}, "mark": {"type": "bar", "size": 3, "clip": true},
 "encoding": {"y": {"field": "o", "type": "quantitative", "scale": {"domain": [0.69016, 0.72788], "nice": false, "zero": false}},
  "y2": {"field": "c"},
  "color": {"condition": {"test": "datum.c >= datum.o", "value": "#26a69a"}, "value": "#ef5350"}}},
{"data": {"name": "tunnels"}, "mark": {"type": "line", "strokeWidth": 2.4, "clip": true},
 "encoding": {"y": {"field": "p1", "type": "quantitative", "scale": {"domain": [0.69016, 0.72788], "nice": false, "zero": false}},
  "color": {"field": "k", "type": "nominal", "scale": {"domain": ["a","b","c","d","e"], "range": ["#ffffff","#ffd54f","#42a5f5","#7c4dff","#ffa726"]},
   "legend": {"title": null, "orient": "top-left", "offset": 8, "padding": 6, "fillColor": "rgba(10,13,19,0.9)", "strokeColor": "#3a3f4b", "cornerRadius": 4,
    "symbolType": "M-1.4,0H2.3", "symbolSize": 400, "symbolStrokeWidth": 3, "symbolFillColor": "transparent",
    "labelFont": "DejaVu Sans", "labelFontSize": 16.5, "labelOffset": 25, "labelLimit": 300, "rowPadding": 6,
    "labelExpr": "datum.label == 'a' ? 'White = Fast tunnel' : datum.label == 'b' ? 'Yellow = Main tunnel' : datum.label == 'c' ? 'Blue = Slow tunnel' : datum.label == 'd' ? 'Purple = BB band' : 'Orange = ATR(14)'",
    "encode": {"labels": {"update": {"fill": {"signal": "datum.value == 'a' ? '#ffffff' : datum.value == 'b' ? '#ffd54f' : datum.value == 'c' ? '#42a5f5' : datum.value == 'd' ? '#7c4dff' : '#ffa726'"}}},
               "symbols": {"update": {"strokeDash": {"signal": "datum.value == 'd' ? [6,3] : [1,0]"}}}}}}}},
{"data": {"name": "tunnels"}, "mark": {"type": "line", "strokeWidth": 2.4, "clip": true},
 "encoding": {"y": {"field": "p2", "type": "quantitative", "scale": {"domain": [0.69016, 0.72788], "nice": false, "zero": false}},
  "color": {"field": "k", "type": "nominal", "scale": {"domain": ["a","b","c","d","e"], "range": ["#ffffff","#ffd54f","#42a5f5","#7c4dff","#ffa726"]}, "legend": null}}},
{"data": {"name": "bb"}, "mark": {"type": "line", "strokeWidth": 1.5, "strokeDash": [5,3], "clip": true},
 "encoding": {"y": {"field": "p", "type": "quantitative", "scale": {"domain": [0.69016, 0.72788], "nice": false, "zero": false}},
  "detail": {"field": "n"},
  "color": {"datum": "d", "type": "nominal", "scale": {"domain": ["a","b","c","d","e"], "range": ["#ffffff","#ffd54f","#42a5f5","#7c4dff","#ffa726"]}, "legend": null}}}
]
},
{
"width": 896, "height": 100,
"data": {"name": "candles"},
"mark": {"type": "bar", "size": 3.4, "stroke": "#2196f3", "strokeWidth": 0.8, "clip": true},
"encoding": {
 "x": {"field": "i", "type": "quantitative", "scale": {"domain": [0.16, 203.8], "nice": false, "zero": false}, "axis": {"orient": "top", "grid": true, "labels": false, "ticks": false, "domain": false, "values": [25,50,75,100,125,150,175,200], "title": "10⁶", "titleX": 964, "titleY": -12, "titleAngle": 270, "titleAlign": "center", "titleBaseline": "middle", "titleFontSize": 20, "titleFontWeight": "normal"}},
 "y": {"field": "v", "type": "quantitative", "scale": {"domain": [90000, 6850000], "nice": false, "zero": false},
  "axis": {"orient": "right", "values": [2500000, 5000000], "labelExpr": "format(datum.value / 1000000, '.1f')", "title": "Volume", "titleX": 69, "titleY": 82, "titleAngle": 270, "titleAlign": "center", "titleBaseline": "middle", "grid": true, "domain": false, "tickSize": 7, "labelPadding": 9}},
 "fill": {"condition": {"test": "datum.c >= datum.o", "value": "#26a69a"}, "value": "#ef5350"}
}
},
{
"width": 896, "height": 98,
"data": {"name": "candles"},
"mark": {"type": "line", "color": "#ffa726", "strokeWidth": 2, "clip": true},
"encoding": {
 "x": {"field": "i", "type": "quantitative", "scale": {"domain": [0.16, 203.8], "nice": false, "zero": false}, "axis": {"grid": true, "labels": false, "ticks": false, "domain": false, "values": [25,50,75,100,125,150,175,200], "title": null}},
 "y": {"field": "a", "type": "quantitative", "scale": {"domain": [0.001777, 0.004617], "nice": false, "zero": false},
  "axis": {"orient": "right", "values": [0.002, 0.004], "format": ".3f", "title": "ATR(14)", "titleX": 94, "titleY": 49, "titleAngle": 270, "titleAlign": "center", "titleBaseline": "middle", "grid": true, "domain": false, "tickSize": 7, "labelPadding": 9}}
}
}
],
"config": {
 "view": {"stroke": "#363a45", "strokeWidth": 2},
 "axis": {"labelFont": "DejaVu Sans", "labelFontSize": 20, "labelColor": "#787b86", "tickColor": "#787b86", "tickWidth": 1, "gridColor": "#2a2e39", "gridWidth": 1, "titleFont": "DejaVu Sans", "titleFontSize": 24, "titleFontWeight": "bold", "titleColor": "#787b86"},
 "legend": {"labelFont": "DejaVu Sans"}
}
}
